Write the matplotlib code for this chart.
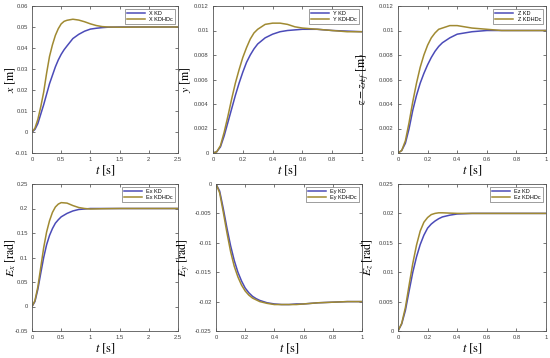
import matplotlib
matplotlib.use("Agg")
import matplotlib.pyplot as plt

# --- datos ---
t_x = [0, 0.05, 0.1, 0.15, 0.2, 0.25, 0.3, 0.35, 0.4, 0.45, 0.5, 0.55, 0.6, 0.7, 0.8, 0.9, 1.0, 1.1, 1.2, 1.3, 1.5, 2.0, 2.5]
x_kd = [0, 0.0012, 0.004, 0.0085, 0.013, 0.018, 0.023, 0.027, 0.031, 0.0343, 0.037, 0.0392, 0.041, 0.0445, 0.0465, 0.048, 0.049, 0.0494, 0.0497, 0.0499, 0.05, 0.05, 0.05]
x_kdhdc = [0, 0.0018, 0.006, 0.012, 0.019, 0.028, 0.036, 0.0415, 0.046, 0.0492, 0.0515, 0.0527, 0.0532, 0.0537, 0.0533, 0.0525, 0.0515, 0.0507, 0.0502, 0.05, 0.0499, 0.05, 0.05]

t_1 = [0, 0.025, 0.05, 0.075, 0.1, 0.125, 0.15, 0.175, 0.2, 0.225, 0.25, 0.275, 0.3, 0.35, 0.4, 0.45, 0.5, 0.55, 0.6, 0.7, 0.8, 0.9, 1.0]
y_kd = [0, 0.0001, 0.0005, 0.0014, 0.0025, 0.0036, 0.0047, 0.0057, 0.0066, 0.0074, 0.008, 0.0085, 0.0089, 0.0094, 0.0097, 0.0099, 0.01, 0.01005, 0.0101, 0.0101, 0.01, 0.00995, 0.0099]
y_kdhdc = [0, 0.0001, 0.0006, 0.0017, 0.003, 0.0044, 0.0057, 0.0068, 0.0078, 0.0086, 0.0093, 0.0098, 0.0101, 0.0105, 0.0106, 0.0106, 0.0105, 0.0103, 0.0102, 0.0101, 0.01, 0.0099, 0.0099]

z_kd = [0, 0.0002, 0.0008, 0.002, 0.0035, 0.0047, 0.0057, 0.0065, 0.0072, 0.0078, 0.0083, 0.0087, 0.009, 0.0094, 0.0097, 0.0098, 0.0099, 0.00995, 0.01, 0.01, 0.01, 0.01, 0.01]
z_kdhdc = [0, 0.0002, 0.001, 0.0025, 0.0042, 0.0057, 0.007, 0.008, 0.0088, 0.0094, 0.0098, 0.0101, 0.0102, 0.0104, 0.0104, 0.0103, 0.0102, 0.01015, 0.0101, 0.01, 0.01, 0.01, 0.01]

t_ex = [0, 0.05, 0.1, 0.15, 0.2, 0.25, 0.3, 0.35, 0.4, 0.45, 0.5, 0.6, 0.7, 0.8, 0.9, 1.0, 1.2, 1.5, 2.0, 2.5]
ex_kd = [0, 0.01, 0.035, 0.068, 0.1, 0.126, 0.145, 0.159, 0.17, 0.177, 0.183, 0.19, 0.195, 0.198, 0.199, 0.2, 0.2, 0.2, 0.2, 0.2]
ex_kdhdc = [0, 0.012, 0.04, 0.08, 0.12, 0.152, 0.175, 0.192, 0.203, 0.209, 0.212, 0.211, 0.206, 0.202, 0.2, 0.199, 0.1995, 0.2, 0.2, 0.2]

ey_kd = [0, -0.0012, -0.0042, -0.0075, -0.0105, -0.013, -0.015, -0.0165, -0.0177, -0.0185, -0.0191, -0.0195, -0.0198, -0.0202, -0.0204, -0.0205, -0.0205, -0.0204, -0.0204, -0.0202, -0.0201, -0.02, -0.02]
ey_kdhdc = [0, -0.0015, -0.0048, -0.0083, -0.0115, -0.014, -0.0158, -0.0172, -0.0182, -0.0189, -0.0194, -0.0197, -0.02, -0.0203, -0.0205, -0.0205, -0.0205, -0.0205, -0.0204, -0.0202, -0.0201, -0.02, -0.02]

ez_kd = [0, 0.0012, 0.0035, 0.0068, 0.01, 0.0126, 0.0147, 0.0163, 0.0175, 0.0182, 0.0187, 0.0191, 0.0194, 0.0197, 0.0199, 0.01995, 0.02, 0.02, 0.02, 0.02, 0.02, 0.02, 0.02]
ez_kdhdc = [0, 0.0013, 0.004, 0.0078, 0.0115, 0.0146, 0.017, 0.0185, 0.0193, 0.0198, 0.02, 0.0201, 0.0201, 0.02005, 0.02, 0.02, 0.02, 0.02, 0.02, 0.02, 0.02, 0.02, 0.02]

AZUL = "#4b4bb8"
OLIVA = "#a08a32"

paneles = [
    (t_x, x_kd, x_kdhdc, "X", r"$x$ [m]", (0, 2.5), (-0.01, 0.06), [0, 0.5, 1, 1.5, 2, 2.5], [-0.01, 0, 0.01, 0.02, 0.03, 0.04, 0.05, 0.06]),
    (t_1, y_kd, y_kdhdc, "Y", r"$y$ [m]", (0, 1), (0, 0.012), [0, 0.2, 0.4, 0.6, 0.8, 1], [0, 0.002, 0.004, 0.006, 0.008, 0.01, 0.012]),
    (t_1, z_kd, z_kdhdc, "Z", r"$z - z_{ref}$ [m]", (0, 1), (0, 0.012), [0, 0.2, 0.4, 0.6, 0.8, 1], [0, 0.002, 0.004, 0.006, 0.008, 0.01, 0.012]),
    (t_ex, ex_kd, ex_kdhdc, "Ex", r"$E_x$ [rad]", (0, 2.5), (-0.05, 0.25), [0, 0.5, 1, 1.5, 2, 2.5], [-0.05, 0, 0.05, 0.1, 0.15, 0.2, 0.25]),
    (t_1, ey_kd, ey_kdhdc, "Ey", r"$E_y$ [rad]", (0, 1), (-0.025, 0), [0, 0.2, 0.4, 0.6, 0.8, 1], [-0.025, -0.02, -0.015, -0.01, -0.005, 0]),
    (t_1, ez_kd, ez_kdhdc, "Ez", r"$E_z$ [rad]", (0, 1), (0, 0.025), [0, 0.2, 0.4, 0.6, 0.8, 1], [0, 0.005, 0.01, 0.015, 0.02, 0.025]),
]

# posiciones de los ejes en pixeles (izq, der, arriba, abajo) y borde derecho de la etiqueta y
cajas = [(32, 178, 6, 153, 18), (213, 362, 6, 153, 193), (398, 546, 6, 153, 372),
         (32, 178, 184, 331, 18), (216, 362, 184, 331, 193), (398, 546, 184, 331, 375)]

plt.rcParams["font.family"] = ["Liberation Sans", "DejaVu Sans"]
plt.rcParams["mathtext.fontset"] = "stix"
W, H = 550, 358
fig = plt.figure(figsize=(W / 100, H / 100), dpi=100)

for (t, kd, hdc, nom, ylab, xl, yl, xt, yt), (x0, x1, y0, y1, xlab) in zip(paneles, cajas):
    ax = fig.add_axes([x0 / W, 1 - y1 / H, (x1 - x0) / W, (y1 - y0) / H])
    ax.plot(t, kd, color=AZUL, lw=1.1, label=f"{nom} KD")
    ax.plot(t, hdc, color=OLIVA, lw=1.1, label=f"{nom} KDHDc")
    ax.set_xlim(*xl)
    ax.set_ylim(*yl)
    ax.set_xticks(xt)
    ax.set_xticklabels([f"{v:g}" for v in xt])
    ax.set_yticks(yt)
    ax.set_yticklabels([f"{v:g}" for v in yt])
    ax.tick_params(labelsize=4.2, direction="in", length=2, width=0.5,
                   colors="#404040", top=True, right=True, pad=3)
    for s in ax.spines.values():
        s.set_linewidth(0.6)
        s.set_color("#555555")
    ax.set_xlabel(r"$t$ [s]", fontsize=9, family="STIXGeneral", labelpad=1)
    ax.set_ylabel(ylab, fontsize=8.5, family="STIXGeneral")
    ax.yaxis.set_label_coords((xlab - x0) / (x1 - x0), 0.5)
    ax.legend(loc="upper right", fontsize=4, frameon=True, fancybox=False,
              edgecolor="#555555", handlelength=3.2, borderpad=0.4,
              labelspacing=0.2).get_frame().set_linewidth(0.5)

fig.savefig("out.png", dpi=100)
